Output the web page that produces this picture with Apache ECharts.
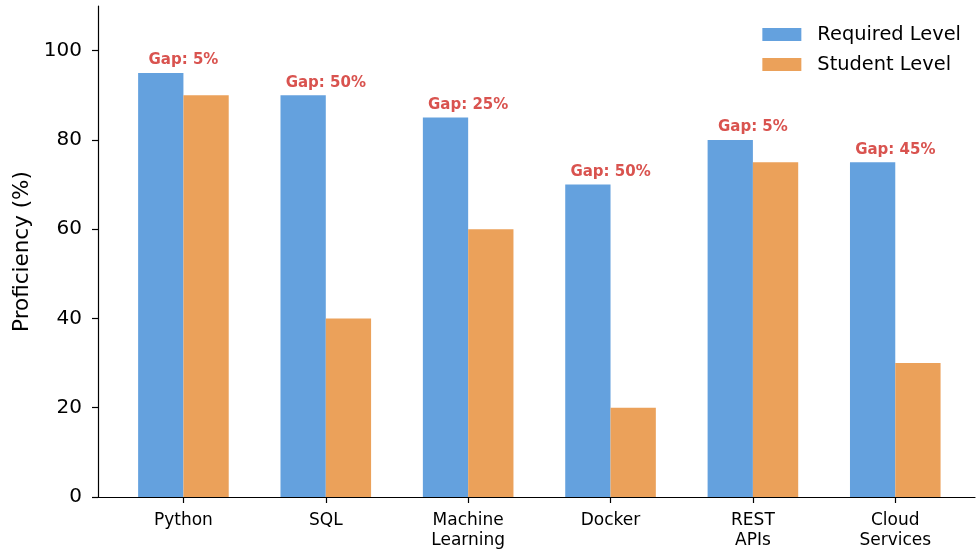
<!DOCTYPE html>
<html>
<head>
<meta charset="utf-8">
<script src="https://cdn.jsdelivr.net/npm/echarts@6/dist/echarts.min.js"></script>
<style>
  html, body { margin: 0; padding: 0; background: #ffffff; }
  #chart { width: 976px; height: 551px; }
</style>
</head>
<body>
<div id="chart"></div>
<script>
// Skill categories and proficiency levels (%)
const skills = ['Python', 'SQL', 'Machine\nLearning', 'Docker', 'REST\nAPIs', 'Cloud\nServices'];
const requiredLevel = [95, 90, 85, 70, 80, 75];
const studentLevel = [90, 40, 60, 20, 75, 30];
const yTicks = [0, 20, 40, 60, 80, 100];

const FONT = 'DejaVu Sans';
const BLUE = '#64a1de';
const ORANGE = '#eba15a';
const RED = '#d9534f';

// Gap between required and current level for each skill
const gaps = requiredLevel.map((r, i) => r - studentLevel[i]);
const positions = skills.map((_, i) => i);

const chart = echarts.init(document.getElementById('chart'), null, { renderer: 'canvas' });

chart.setOption({
  animation: false,
  backgroundColor: '#ffffff',
  grid: { left: 98, right: 1, top: 6, bottom: 53, containLabel: false },
  xAxis: {
    type: 'value',
    min: -0.6,
    max: 5.56,
    splitLine: { show: false },
    axisLine: { show: true, onZero: false, lineStyle: { color: '#000', width: 1.2 } },
    axisTick: { show: true, length: 6, customValues: positions, lineStyle: { color: '#000', width: 1.2 } },
    axisLabel: {
      show: true,
      customValues: positions,
      margin: 13,
      fontFamily: FONT,
      fontSize: 17,
      lineHeight: 20.5,
      color: '#000',
      formatter: (v) => skills[Math.round(v)]
    }
  },
  yAxis: {
    type: 'value',
    min: 0,
    max: 110,
    name: 'Proficiency (%)',
    nameLocation: 'middle',
    nameGap: 64,
    nameTextStyle: { fontFamily: FONT, fontSize: 21.5, color: '#000' },
    splitLine: { show: false },
    axisLine: { show: true, onZero: false, lineStyle: { color: '#000', width: 1.2 } },
    axisTick: { show: true, length: 6, customValues: yTicks, lineStyle: { color: '#000', width: 1.2 } },
    axisLabel: {
      customValues: yTicks,
      margin: 16,
      fontFamily: FONT,
      fontSize: 20,
      color: '#000'
    }
  },
  legend: {
    orient: 'vertical',
    right: 10,
    top: 20,
    itemWidth: 39,
    itemHeight: 13,
    itemGap: 11,
    icon: 'rect',
    textStyle: { fontFamily: FONT, fontSize: 19.4, color: '#000', padding: [0, 0, 0, 11] },
    data: ['Required Level', 'Student Level']
  },
  series: [
    {
      name: 'Required Level',
      type: 'bar',
      barWidth: 45.3,
      barGap: '0%',
      itemStyle: { color: BLUE },
      data: requiredLevel.map((v, i) => [i, v])
    },
    {
      name: 'Student Level',
      type: 'bar',
      barWidth: 45.3,
      barGap: '0%',
      itemStyle: { color: ORANGE },
      data: studentLevel.map((v, i) => [i, v])
    },
    {
      name: 'Gap',
      type: 'scatter',
      symbolSize: 0,
      silent: true,
      z: 5,
      itemStyle: { opacity: 1 },
      label: {
        show: true,
        position: 'top',
        distance: 5,
        fontFamily: FONT,
        fontWeight: 'bold',
        fontSize: 15,
        color: RED,
        opacity: 1,
        formatter: (p) => 'Gap: ' + gaps[p.dataIndex] + '%'
      },
      data: requiredLevel.map((v, i) => [i, v])
    }
  ]
});
</script>
</body>
</html>
